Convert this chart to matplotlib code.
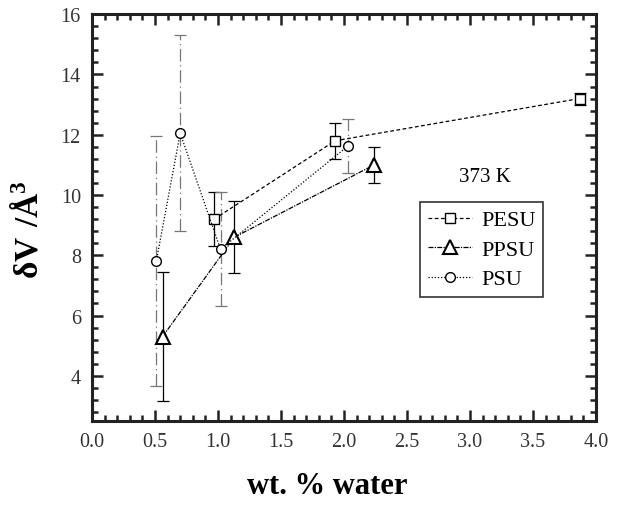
import matplotlib
matplotlib.use("Agg")
from matplotlib import pyplot as plt
from matplotlib.ticker import MultipleLocator

plt.rcParams['font.family'] = ['Liberation Serif', 'DejaVu Serif']
plt.rcParams['mathtext.fontset'] = 'custom'
plt.rcParams['mathtext.rm'] = 'Liberation Serif'
plt.rcParams['mathtext.bf'] = 'Liberation Serif:bold'

# data
pesu_x = [0.97, 1.93, 3.87]
pesu_y = [9.2, 11.8, 13.2]
pesu_err = [0.9, 0.6, 0.2]

ppsu_x = [0.56, 1.13, 2.24]
ppsu_y = [5.3, 8.6, 11.0]
ppsu_err = [2.15, 1.2, 0.6]

psu_x = [0.51, 0.70, 1.02, 2.03]
psu_y = [7.8, 12.05, 8.2, 11.62]
psu_err = [4.15, 3.25, 1.9, 0.9]

fig = plt.figure(figsize=(6.26, 5.06), dpi=100)
ax = fig.add_axes([0.147, 0.166, 0.805, 0.804])

# error bars
ax.errorbar(pesu_x, pesu_y, yerr=pesu_err, fmt='none', ecolor='black',
            elinewidth=0.9, capsize=4.5, capthick=0.9, zorder=2)
ax.errorbar(ppsu_x, ppsu_y, yerr=ppsu_err, fmt='none', ecolor='black',
            elinewidth=0.9, capsize=4.5, capthick=0.9, zorder=2)
eb = ax.errorbar(psu_x, psu_y, yerr=psu_err, fmt='none', ecolor='#777777',
                 elinewidth=0.9, capsize=4.5, capthick=0.9, zorder=2)
eb[2][0].set_linestyle((0, (10, 3, 1, 3)))

ax.plot(pesu_x, pesu_y, linestyle=(0, (3, 2)), color='black', linewidth=0.9,
        marker='s', markersize=6.5, markerfacecolor='white', markeredgecolor='black',
        markeredgewidth=1.0, label='PESU', zorder=3)
ax.plot(ppsu_x, ppsu_y, linestyle=(0, (4, 1, 1, 1)), color='black', linewidth=0.9,
        marker='^', markersize=9.5, markerfacecolor='white', markeredgecolor='black',
        markeredgewidth=1.5, label='PPSU', zorder=3)
ax.plot(psu_x, psu_y, linestyle=(0, (1, 1.5)), color='black', linewidth=0.9,
        marker='o', markersize=7, markerfacecolor='white', markeredgecolor='black',
        markeredgewidth=1.0, label='PSU', zorder=3)

ax.set_xlim(0, 4.0)
ax.set_ylim(2.5, 16)
ax.xaxis.set_major_locator(MultipleLocator(0.5))
ax.xaxis.set_minor_locator(MultipleLocator(0.1))
ax.yaxis.set_major_locator(MultipleLocator(2))
ax.yaxis.set_minor_locator(MultipleLocator(0.4))
ax.xaxis.set_major_formatter(plt.FuncFormatter(lambda v, p: '%.1f' % v))
ax.yaxis.set_major_formatter(plt.FuncFormatter(lambda v, p: '%d' % v))

ax.tick_params(which='both', direction='in', top=True, right=True, width=1.8, color='#222222')
ax.tick_params(which='major', length=8, labelsize=14.5, pad=8, labelcolor='#333333')
ax.tick_params(which='minor', length=4.5)
for s in ax.spines.values():
    s.set_linewidth(2.2)
    s.set_color('#222222')

ax.set_xlabel('wt. % water', fontsize=22, fontweight='bold')
ax.xaxis.set_label_coords(0.466, -0.122)
ax.set_ylabel(r'$\mathbf{\delta V\ /\AA^3}$', fontsize=24)
ax.yaxis.set_label_coords(-0.095, 0.474)

ax.text(3.12, 10.63, '373 K', fontsize=15, ha='center', va='center')

leg = ax.legend(loc='upper left', bbox_to_anchor=(0.651, 0.538), fontsize=16,
                frameon=True, fancybox=False, edgecolor='black', handlelength=2.0,
                handletextpad=0.4, borderpad=0.35, labelspacing=0.4,
                borderaxespad=0)
leg.get_frame().set_linewidth(1.2)

fig.savefig('out.png', dpi=100)
